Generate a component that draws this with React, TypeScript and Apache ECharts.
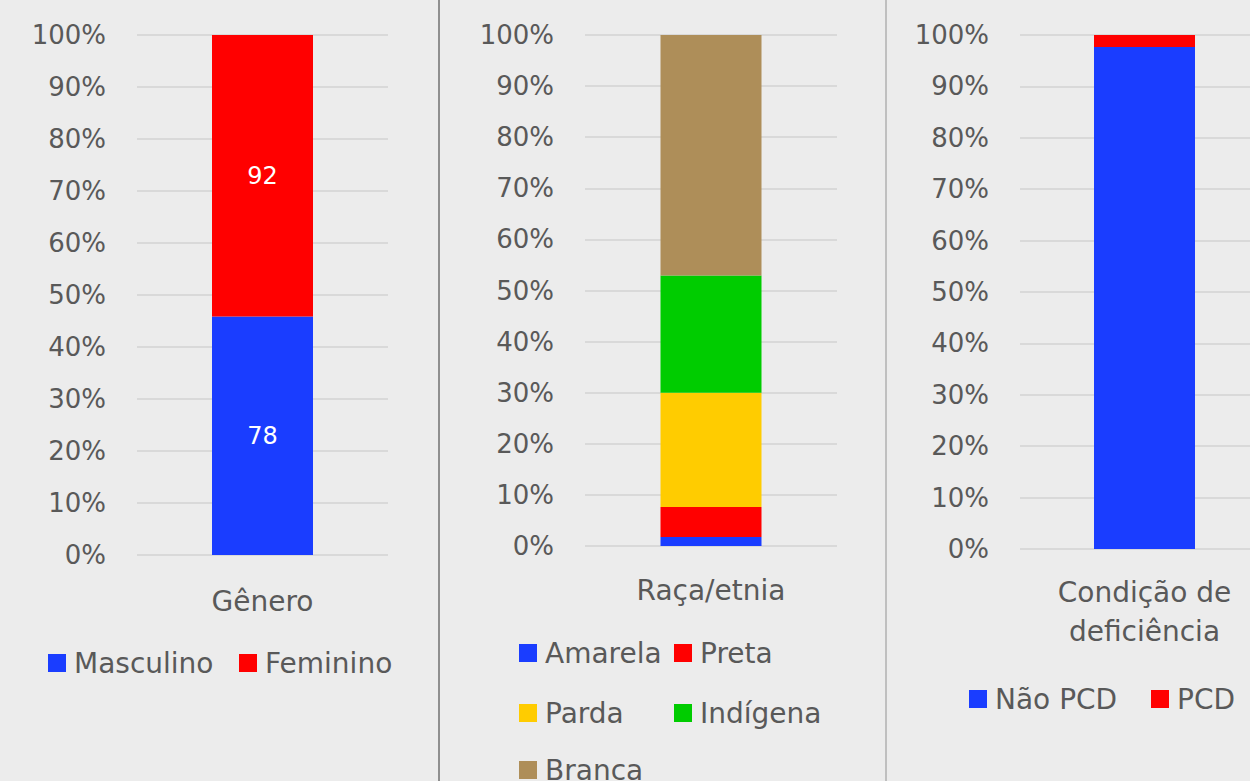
import React, { useEffect, useRef } from "react";
import * as echarts from "echarts";

const genderCategory = ["Gênero"];
const masculino = [78];
const feminino = [92];

const raceCategory = ["Raça/etnia"];
const amarela = [3];
const preta = [10];
const parda = [38];
const indigena = [39];
const branca = [80];

const pcdCategory = ["Condição de\ndeficiência"];
const naoPcd = [166];
const pcd = [4];

const yTicks = [0, 10, 20, 30, 40, 50, 60, 70, 80, 90, 100];

const BLUE = "#1a3dff";
const RED = "#ff0000";
const YELLOW = "#ffcc00";
const GREEN = "#00cc00";
const BROWN = "#ae8e59";
const TEXT = "#595959";
const FONT = "DejaVu Sans";

function pct(groups: number[][], idx: number): number[] {
  const arr = groups[idx];
  return arr.map((v, i) => {
    const total = groups.reduce((s, g) => s + g[i], 0);
    return (v / total) * 100;
  });
}

export default function App() {
  const ref = useRef<HTMLDivElement>(null);
  useEffect(() => {
    if (!ref.current) return;
    const chart = echarts.init(ref.current, null, { renderer: "svg" });
    const gGroups = [masculino, feminino];
    const rGroups = [amarela, preta, parda, indigena, branca];
    const pGroups = [naoPcd, pcd];

    const yAxisBase = (gridIndex: number) => ({
      type: "value",
      gridIndex,
      min: 0,
      max: 100,
      interval: 10,
      axisLine: { show: false },
      axisTick: { show: false },
      axisLabel: {
        formatter: (v: number) => (yTicks.includes(v) ? v + "%" : ""),
        color: TEXT,
        fontSize: 26,
        fontFamily: FONT,
        margin: 31,
      },
      splitLine: { lineStyle: { color: "#d9d9d9", width: 2 } },
    });
    const xAxisBase = (gridIndex: number, data: string[], margin: number) => ({
      type: "category",
      gridIndex,
      data,
      axisLine: { show: false },
      axisTick: { show: false },
      axisLabel: {
        color: TEXT,
        fontSize: 28,
        fontFamily: FONT,
        margin,
        lineHeight: 39,
      },
    });

    const gLabel = (raw: number[]) => ({
      show: true,
      position: "inside",
      color: "#ffffff",
      fontSize: 24,
      fontFamily: FONT,
      formatter: (p: any) => String(raw[p.dataIndex]),
    });

    const mkSeries = (
      name: string,
      idx: number,
      stack: string,
      data: number[],
      color: string,
      label?: any
    ) => ({
      name,
      type: "bar",
      xAxisIndex: idx,
      yAxisIndex: idx,
      stack,
      barWidth: 101,
      data,
      itemStyle: { color },
      label: label || { show: false },
    });

    const legendItem = (name: string, left: number, cy: number) => ({
      data: [name],
      left,
      top: cy - 14,
      padding: 0,
      itemWidth: 18,
      itemHeight: 18,
      icon: "rect",
      selectedMode: true,
      textStyle: {
        color: TEXT,
        fontSize: 28,
        fontFamily: FONT,
        lineHeight: 28,
        padding: [0, 0, 0, 3],
      },
    });

    chart.setOption({
      animation: false,
      backgroundColor: "#ececec",
      textStyle: { fontFamily: FONT },
      grid: [
        { left: 137, top: 35, width: 251, height: 520 },
        { left: 585, top: 35, width: 252, height: 511 },
        { left: 1020, top: 35, width: 249, height: 514 },
      ],
      xAxis: [
        xAxisBase(0, genderCategory, 27),
        xAxisBase(1, raceCategory, 25),
        xAxisBase(2, pcdCategory, 24),
      ],
      yAxis: [yAxisBase(0), yAxisBase(1), yAxisBase(2)],
      legend: [
        legendItem("Masculino", 48, 663),
        legendItem("Feminino", 239, 663),
        legendItem("Amarela", 519, 653),
        legendItem("Preta", 674, 653),
        legendItem("Parda", 519, 713),
        legendItem("Indígena", 674, 713),
        legendItem("Branca", 519, 770),
        legendItem("Não PCD", 969, 699),
        legendItem("PCD", 1151, 699),
      ],
      graphic: [
        {
          type: "line",
          shape: { x1: 439, y1: 0, x2: 439, y2: 781 },
          style: { stroke: "#8f8f8f", lineWidth: 2 },
          silent: true,
        },
        {
          type: "line",
          shape: { x1: 886, y1: 0, x2: 886, y2: 781 },
          style: { stroke: "#b0b0b0", lineWidth: 1.5 },
          silent: true,
        },
      ],
      series: [
        mkSeries("Masculino", 0, "g", pct(gGroups, 0), BLUE, gLabel(masculino)),
        mkSeries("Feminino", 0, "g", pct(gGroups, 1), RED, gLabel(feminino)),
        mkSeries("Amarela", 1, "r", pct(rGroups, 0), BLUE),
        mkSeries("Preta", 1, "r", pct(rGroups, 1), RED),
        mkSeries("Parda", 1, "r", pct(rGroups, 2), YELLOW),
        mkSeries("Indígena", 1, "r", pct(rGroups, 3), GREEN),
        mkSeries("Branca", 1, "r", pct(rGroups, 4), BROWN),
        mkSeries("Não PCD", 2, "p", pct(pGroups, 0), BLUE),
        mkSeries("PCD", 2, "p", pct(pGroups, 1), RED),
      ],
    });
    return () => chart.dispose();
  }, []);
  return (
    <div
      style={{
        position: "fixed",
        left: 0,
        top: 0,
        width: 1250,
        height: 781,
        overflow: "hidden",
        background: "#ececec",
      }}
    >
      <div ref={ref} style={{ width: 1330, height: 781 }} />
    </div>
  );
}
